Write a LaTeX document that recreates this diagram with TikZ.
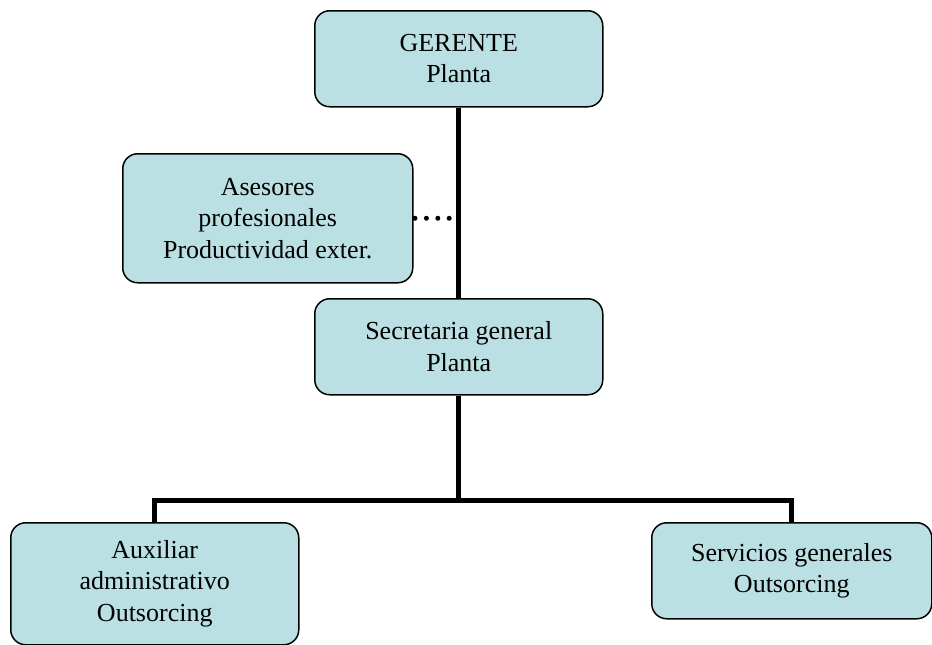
\documentclass[tikz,border=0pt]{standalone}
\usepackage{fontspec}
\setmainfont{Liberation Serif}
\definecolor{boxfill}{RGB}{187,224,227}
\begin{document}
\begin{tikzpicture}[x=1pt,y=-1pt,
  box/.style={draw=black, line width=1.5pt, fill=boxfill, rounded corners=15pt,
    inner sep=0pt, anchor=north west, align=center,
    font=\fontsize{26}{31.5}\selectfont},
  conn/.style={line width=5pt, draw=black, line join=miter},
  dots/.style={line width=5pt, line cap=round, dash pattern=on 0pt off 11.4pt}]
\useasboundingbox (0,0) rectangle (932,645);
\node[box, minimum width=288pt, minimum height=96pt] (g) at (314,10) {GERENTE\\Planta};
\node[box, minimum width=290pt, minimum height=129pt] (a) at (122,153) {Asesores\\profesionales\\Productividad exter.};
\node[box, minimum width=288pt, minimum height=96pt] (s) at (314,298) {Secretaria general\\Planta};
\node[box, minimum width=288pt, minimum height=122pt] (x) at (10,522) {Auxiliar\\administrativo\\Outsorcing};
\node[box, minimum width=280pt, minimum height=96pt] (v) at (651,522) {Servicios generales\\Outsorcing};
\coordinate (j) at (s.south |- 0,500);
\draw[conn] (g.south) -- (s.north);
\draw[conn] (s.south) -- (j);
\draw[conn] (x.north) |- (j) -| (v.north);
\draw[dots] ([xshift=1.5pt]a.east) -- ([xshift=-9.5pt]a.east -| g.south);
\end{tikzpicture}
\end{document}
